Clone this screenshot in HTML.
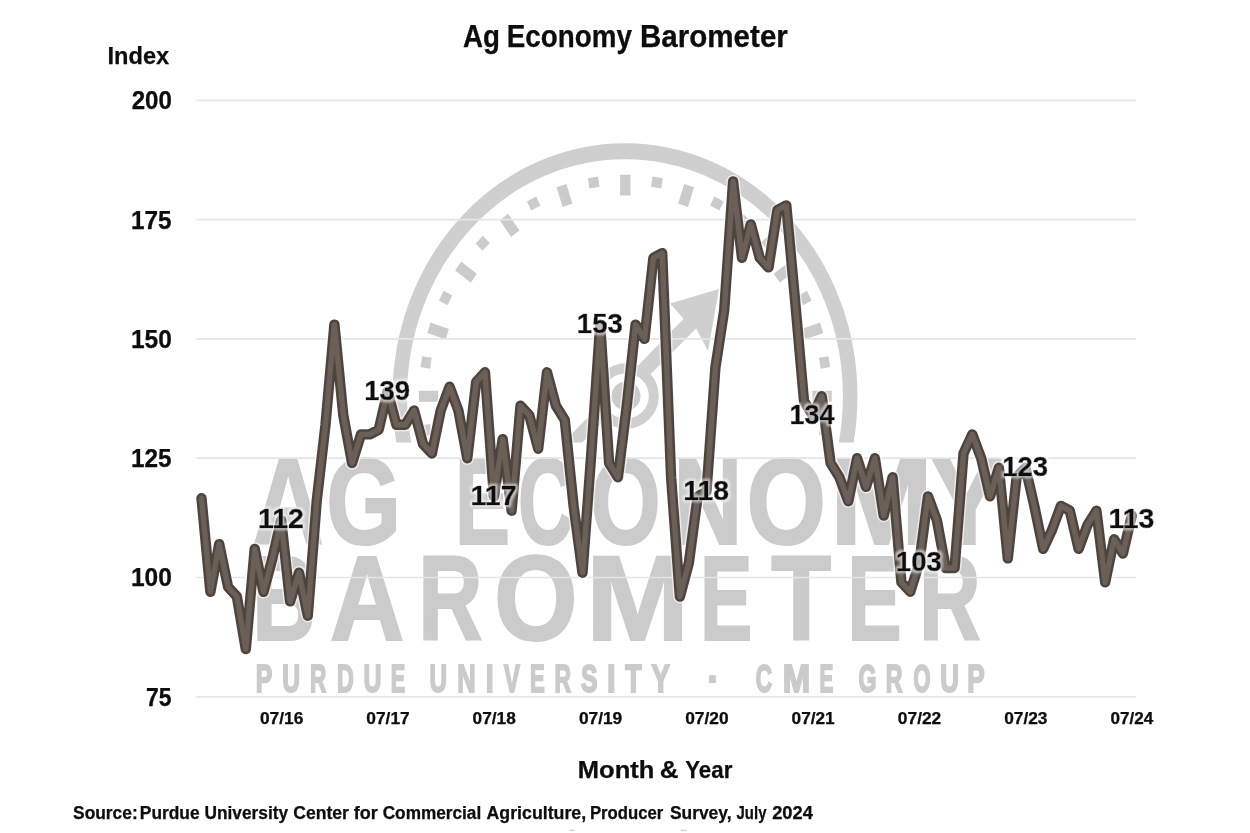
<!DOCTYPE html>
<html lang="en"><head><meta charset="utf-8"><title>Ag Economy Barometer</title>
<style>
html,body{margin:0;padding:0;background:#fff;}
body{width:1250px;height:833px;overflow:hidden;font-family:'Liberation Sans', sans-serif;}
svg{display:block;}
text{font-family:'Liberation Sans', sans-serif;font-weight:bold;}
.wm{fill:#cbcbcb;}
.ax{fill:#0a0a0a;stroke:#0a0a0a;stroke-width:0.25px;stroke-linejoin:round;}
.lab{filter:url(#halo);stroke-width:0.5px;}
</style></head><body>
<svg width="1250" height="833" viewBox="0 0 1250 833">
<defs><filter id="soft" x="-2%" y="-2%" width="104%" height="104%"><feGaussianBlur stdDeviation="0.75"/></filter>
<filter id="halo" x="-15%" y="-25%" width="130%" height="150%"><feMorphology in="SourceAlpha" operator="dilate" radius="1.5" result="d"/><feGaussianBlur in="d" stdDeviation="0.9" result="b"/><feFlood flood-color="#ffffff" flood-opacity="0.6"/><feComposite in2="b" operator="in" result="h"/><feGaussianBlur in="SourceGraphic" stdDeviation="0.6" result="sg"/><feMerge><feMergeNode in="h"/><feMergeNode in="sg"/></feMerge></filter></defs>
<rect width="1250" height="833" fill="#ffffff"/>
<g filter="url(#soft)">

<g id="watermark">
<clipPath id="arcclip"><rect x="380" y="120" width="490" height="322.5"/></clipPath>
<g clip-path="url(#arcclip)">
<g transform="translate(625,396.3) scale(1,1.088)"><circle r="225.2" fill="none" stroke="#cfcfcf" stroke-width="14.6"/></g>
<g transform="translate(625.3,396.3) scale(1,1.073)" fill="#cbcbcb">
<rect x="-5.15" y="-4.80" width="10.3" height="9.6" transform="translate(-199.2,31.6) rotate(-99)"/>
<rect x="-5.15" y="-9.65" width="10.3" height="19.3" transform="translate(-196.8,-0.0) rotate(-90)"/>
<rect x="-5.15" y="-4.80" width="10.3" height="9.6" transform="translate(-199.2,-31.6) rotate(-81)"/>
<rect x="-5.15" y="-9.65" width="10.3" height="19.3" transform="translate(-187.2,-60.8) rotate(-72)"/>
<rect x="-5.15" y="-4.80" width="10.3" height="9.6" transform="translate(-179.7,-91.6) rotate(-63)"/>
<rect x="-5.15" y="-9.65" width="10.3" height="19.3" transform="translate(-159.3,-115.7) rotate(-54)"/>
<rect x="-5.15" y="-4.80" width="10.3" height="9.6" transform="translate(-142.6,-142.6) rotate(-45)"/>
<rect x="-5.15" y="-9.65" width="10.3" height="19.3" transform="translate(-115.7,-159.3) rotate(-36)"/>
<rect x="-5.15" y="-4.80" width="10.3" height="9.6" transform="translate(-91.6,-179.7) rotate(-27)"/>
<rect x="-5.15" y="-9.65" width="10.3" height="19.3" transform="translate(-60.8,-187.2) rotate(-18)"/>
<rect x="-5.15" y="-4.80" width="10.3" height="9.6" transform="translate(-31.6,-199.2) rotate(-9)"/>
<rect x="-5.15" y="-9.65" width="10.3" height="19.3" transform="translate(0.0,-196.8) rotate(0)"/>
<rect x="-5.15" y="-4.80" width="10.3" height="9.6" transform="translate(31.6,-199.2) rotate(9)"/>
<rect x="-5.15" y="-9.65" width="10.3" height="19.3" transform="translate(60.8,-187.2) rotate(18)"/>
<rect x="-5.15" y="-4.80" width="10.3" height="9.6" transform="translate(91.6,-179.7) rotate(27)"/>
<rect x="-5.15" y="-9.65" width="10.3" height="19.3" transform="translate(115.7,-159.3) rotate(36)"/>
<rect x="-5.15" y="-4.80" width="10.3" height="9.6" transform="translate(142.6,-142.6) rotate(45)"/>
<rect x="-5.15" y="-9.65" width="10.3" height="19.3" transform="translate(159.3,-115.7) rotate(54)"/>
<rect x="-5.15" y="-4.80" width="10.3" height="9.6" transform="translate(179.7,-91.6) rotate(63)"/>
<rect x="-5.15" y="-9.65" width="10.3" height="19.3" transform="translate(187.2,-60.8) rotate(72)"/>
<rect x="-5.15" y="-4.80" width="10.3" height="9.6" transform="translate(199.2,-31.6) rotate(81)"/>
<rect x="-5.15" y="-9.65" width="10.3" height="19.3" transform="translate(196.8,-0.0) rotate(90)"/>
<rect x="-5.15" y="-4.80" width="10.3" height="9.6" transform="translate(199.2,31.6) rotate(99)"/>
</g>
</g>
<path fill="#cfcfcf" d="M563.4,442.5 L683.6,318.7 L670.1,303.4 L719,289 L708,351.1 L696.2,328.6 L582.3,442.5 Z"/>
<circle cx="626" cy="396" r="27.8" fill="#fff" stroke="#cfcfcf" stroke-width="10"/>
<circle cx="626" cy="396" r="14.5" fill="#cbcbcb"/>
<text class="wm" y="544.3" font-size="121.8" xml:space="preserve" stroke="#cbcbcb" stroke-width="2.2" stroke-linejoin="miter"><tspan x="252.7" textLength="70.8" lengthAdjust="spacingAndGlyphs">A</tspan><tspan x="326.3" textLength="74.9" lengthAdjust="spacingAndGlyphs">G</tspan> <tspan x="455.1" textLength="55.0" lengthAdjust="spacingAndGlyphs">E</tspan><tspan x="517.9" textLength="55.9" lengthAdjust="spacingAndGlyphs">C</tspan><tspan x="590.6" textLength="70.1" lengthAdjust="spacingAndGlyphs">O</tspan><tspan x="673.5" textLength="68.8" lengthAdjust="spacingAndGlyphs">N</tspan><tspan x="746.5" textLength="79.5" lengthAdjust="spacingAndGlyphs">O</tspan><tspan x="830.0" textLength="103.2" lengthAdjust="spacingAndGlyphs">M</tspan><tspan x="931.3" textLength="71.4" lengthAdjust="spacingAndGlyphs">Y</tspan></text>
<text class="wm" y="639.5" font-size="119.8" xml:space="preserve" stroke="#cbcbcb" stroke-width="2.2" stroke-linejoin="miter"><tspan x="252.2" textLength="63.5" lengthAdjust="spacingAndGlyphs">B</tspan><tspan x="330.0" textLength="74.2" lengthAdjust="spacingAndGlyphs">A</tspan><tspan x="418.2" textLength="64.2" lengthAdjust="spacingAndGlyphs">R</tspan><tspan x="493.9" textLength="83.5" lengthAdjust="spacingAndGlyphs">O</tspan><tspan x="586.0" textLength="103.2" lengthAdjust="spacingAndGlyphs">M</tspan><tspan x="700.1" textLength="52.4" lengthAdjust="spacingAndGlyphs">E</tspan><tspan x="771.2" textLength="60.0" lengthAdjust="spacingAndGlyphs">T</tspan><tspan x="847.2" textLength="54.4" lengthAdjust="spacingAndGlyphs">E</tspan><tspan x="919.0" textLength="61.7" lengthAdjust="spacingAndGlyphs">R</tspan></text>
<text class="wm" y="692.2" font-size="38.4" xml:space="preserve" stroke="#cbcbcb" stroke-width="2.0" stroke-linejoin="miter"><tspan x="255.7" textLength="16.5" lengthAdjust="spacingAndGlyphs">P</tspan><tspan x="282.3" textLength="17.8" lengthAdjust="spacingAndGlyphs">U</tspan><tspan x="310.0" textLength="16.3" lengthAdjust="spacingAndGlyphs">R</tspan><tspan x="337.1" textLength="16.8" lengthAdjust="spacingAndGlyphs">D</tspan><tspan x="363.4" textLength="18.0" lengthAdjust="spacingAndGlyphs">U</tspan><tspan x="390.7" textLength="14.4" lengthAdjust="spacingAndGlyphs">E</tspan> <tspan x="429.5" textLength="17.5" lengthAdjust="spacingAndGlyphs">U</tspan><tspan x="457.2" textLength="18.4" lengthAdjust="spacingAndGlyphs">N</tspan><tspan x="485.8" textLength="7.9" lengthAdjust="spacingAndGlyphs">I</tspan><tspan x="504.0" textLength="15.9" lengthAdjust="spacingAndGlyphs">V</tspan><tspan x="529.9" textLength="14.7" lengthAdjust="spacingAndGlyphs">E</tspan><tspan x="554.4" textLength="16.6" lengthAdjust="spacingAndGlyphs">R</tspan><tspan x="581.1" textLength="16.5" lengthAdjust="spacingAndGlyphs">S</tspan><tspan x="607.0" textLength="8.5" lengthAdjust="spacingAndGlyphs">I</tspan><tspan x="625.3" textLength="16.4" lengthAdjust="spacingAndGlyphs">T</tspan><tspan x="651.5" textLength="17.9" lengthAdjust="spacingAndGlyphs">Y</tspan> <tspan x="707.6" textLength="11.8" lengthAdjust="spacingAndGlyphs">·</tspan> <tspan x="755.7" textLength="16.3" lengthAdjust="spacingAndGlyphs">C</tspan><tspan x="782.8" textLength="27.4" lengthAdjust="spacingAndGlyphs">M</tspan><tspan x="819.6" textLength="13.8" lengthAdjust="spacingAndGlyphs">E</tspan> <tspan x="858.5" textLength="18.0" lengthAdjust="spacingAndGlyphs">G</tspan><tspan x="885.8" textLength="16.8" lengthAdjust="spacingAndGlyphs">R</tspan><tspan x="913.4" textLength="16.9" lengthAdjust="spacingAndGlyphs">O</tspan><tspan x="940.2" textLength="18.7" lengthAdjust="spacingAndGlyphs">U</tspan><tspan x="967.3" textLength="17.4" lengthAdjust="spacingAndGlyphs">P</tspan></text>
</g>
<g id="grid" stroke="#e5e5e5" stroke-width="1.7">
<line x1="196.4" x2="1136" y1="100.4" y2="100.4"/>
<line x1="196.4" x2="1136" y1="219.7" y2="219.7"/>
<line x1="196.4" x2="1136" y1="338.9" y2="338.9"/>
<line x1="196.4" x2="1136" y1="458.2" y2="458.2"/>
<line x1="196.4" x2="1136" y1="577.5" y2="577.5"/>
<line x1="196.4" x2="1136" y1="696.8" y2="696.8"/>
</g>
<polyline points="201.5,498.3 210.4,591.8 219.2,544.1 228.1,587.0 236.9,596.6 245.8,649.1 254.7,548.9 263.5,591.8 272.4,558.4 281.2,520.2 290.1,601.4 299.0,572.7 307.8,615.7 316.7,501.2 325.5,424.8 334.4,324.6 343.3,415.3 352.1,463.0 361.0,434.4 369.8,434.4 378.7,429.6 387.6,391.4 396.4,424.8 405.3,424.8 414.1,410.5 423.0,443.9 431.9,453.5 440.7,410.5 449.6,386.7 458.4,410.5 467.3,458.2 476.2,381.9 485.0,372.3 493.9,496.4 502.7,439.1 511.6,510.7 520.5,405.7 529.3,415.3 538.2,448.7 547.0,372.3 555.9,405.7 564.8,420.1 573.6,505.9 582.5,572.7 591.3,453.5 600.2,324.6 609.1,463.0 617.9,477.3 626.8,405.7 635.6,324.6 644.5,338.9 653.4,257.8 662.2,253.1 671.1,477.3 679.9,596.6 688.8,563.2 697.7,496.4 706.5,491.6 715.4,367.6 724.2,310.3 733.1,181.5 742.0,257.8 750.8,224.4 759.7,257.8 768.5,267.4 777.4,210.1 786.3,205.4 795.1,300.8 804.0,401.0 812.8,415.3 821.7,396.2 830.6,463.0 839.4,477.3 848.3,501.2 857.1,458.2 866.0,486.9 874.9,458.2 883.7,515.5 892.6,477.3 901.4,582.3 910.3,591.8 919.2,563.2 928.0,496.4 936.9,520.2 945.7,568.0 954.6,568.0 963.5,453.5 972.3,434.4 981.2,458.2 990.0,496.4 998.9,467.8 1007.8,558.4 1016.6,477.3 1025.5,467.8 1034.3,505.9 1043.2,548.9 1052.1,529.8 1060.9,505.9 1069.8,510.7 1078.6,548.9 1087.5,525.0 1096.4,510.7 1105.2,582.3 1114.1,539.3 1122.9,553.6 1131.8,515.5" fill="none" stroke="#ffffff" stroke-opacity="0.6" stroke-width="13.4" stroke-linejoin="round" stroke-linecap="round"/>
<polyline points="201.5,498.3 210.4,591.8 219.2,544.1 228.1,587.0 236.9,596.6 245.8,649.1 254.7,548.9 263.5,591.8 272.4,558.4 281.2,520.2 290.1,601.4 299.0,572.7 307.8,615.7 316.7,501.2 325.5,424.8 334.4,324.6 343.3,415.3 352.1,463.0 361.0,434.4 369.8,434.4 378.7,429.6 387.6,391.4 396.4,424.8 405.3,424.8 414.1,410.5 423.0,443.9 431.9,453.5 440.7,410.5 449.6,386.7 458.4,410.5 467.3,458.2 476.2,381.9 485.0,372.3 493.9,496.4 502.7,439.1 511.6,510.7 520.5,405.7 529.3,415.3 538.2,448.7 547.0,372.3 555.9,405.7 564.8,420.1 573.6,505.9 582.5,572.7 591.3,453.5 600.2,324.6 609.1,463.0 617.9,477.3 626.8,405.7 635.6,324.6 644.5,338.9 653.4,257.8 662.2,253.1 671.1,477.3 679.9,596.6 688.8,563.2 697.7,496.4 706.5,491.6 715.4,367.6 724.2,310.3 733.1,181.5 742.0,257.8 750.8,224.4 759.7,257.8 768.5,267.4 777.4,210.1 786.3,205.4 795.1,300.8 804.0,401.0 812.8,415.3 821.7,396.2 830.6,463.0 839.4,477.3 848.3,501.2 857.1,458.2 866.0,486.9 874.9,458.2 883.7,515.5 892.6,477.3 901.4,582.3 910.3,591.8 919.2,563.2 928.0,496.4 936.9,520.2 945.7,568.0 954.6,568.0 963.5,453.5 972.3,434.4 981.2,458.2 990.0,496.4 998.9,467.8 1007.8,558.4 1016.6,477.3 1025.5,467.8 1034.3,505.9 1043.2,548.9 1052.1,529.8 1060.9,505.9 1069.8,510.7 1078.6,548.9 1087.5,525.0 1096.4,510.7 1105.2,582.3 1114.1,539.3 1122.9,553.6 1131.8,515.5" fill="none" stroke="#4e453e" stroke-width="10.4" stroke-linejoin="round" stroke-linecap="round"/>
<polyline points="201.5,498.3 210.4,591.8 219.2,544.1 228.1,587.0 236.9,596.6 245.8,649.1 254.7,548.9 263.5,591.8 272.4,558.4 281.2,520.2 290.1,601.4 299.0,572.7 307.8,615.7 316.7,501.2 325.5,424.8 334.4,324.6 343.3,415.3 352.1,463.0 361.0,434.4 369.8,434.4 378.7,429.6 387.6,391.4 396.4,424.8 405.3,424.8 414.1,410.5 423.0,443.9 431.9,453.5 440.7,410.5 449.6,386.7 458.4,410.5 467.3,458.2 476.2,381.9 485.0,372.3 493.9,496.4 502.7,439.1 511.6,510.7 520.5,405.7 529.3,415.3 538.2,448.7 547.0,372.3 555.9,405.7 564.8,420.1 573.6,505.9 582.5,572.7 591.3,453.5 600.2,324.6 609.1,463.0 617.9,477.3 626.8,405.7 635.6,324.6 644.5,338.9 653.4,257.8 662.2,253.1 671.1,477.3 679.9,596.6 688.8,563.2 697.7,496.4 706.5,491.6 715.4,367.6 724.2,310.3 733.1,181.5 742.0,257.8 750.8,224.4 759.7,257.8 768.5,267.4 777.4,210.1 786.3,205.4 795.1,300.8 804.0,401.0 812.8,415.3 821.7,396.2 830.6,463.0 839.4,477.3 848.3,501.2 857.1,458.2 866.0,486.9 874.9,458.2 883.7,515.5 892.6,477.3 901.4,582.3 910.3,591.8 919.2,563.2 928.0,496.4 936.9,520.2 945.7,568.0 954.6,568.0 963.5,453.5 972.3,434.4 981.2,458.2 990.0,496.4 998.9,467.8 1007.8,558.4 1016.6,477.3 1025.5,467.8 1034.3,505.9 1043.2,548.9 1052.1,529.8 1060.9,505.9 1069.8,510.7 1078.6,548.9 1087.5,525.0 1096.4,510.7 1105.2,582.3 1114.1,539.3 1122.9,553.6 1131.8,515.5" fill="none" stroke="#6a6058" stroke-width="5.4" stroke-linejoin="round" stroke-linecap="round"/>
<text class="ax" y="47" font-size="30.5" xml:space="preserve"><tspan x="463.11" textLength="36.94" lengthAdjust="spacingAndGlyphs">Ag</tspan> <tspan x="506.74" textLength="125.11" lengthAdjust="spacingAndGlyphs">Economy</tspan> <tspan x="640.02" textLength="147.82" lengthAdjust="spacingAndGlyphs">Barometer</tspan></text>
<text class="ax" x="107.52" y="64.3" font-size="24.4" textLength="61.65" lengthAdjust="spacingAndGlyphs">Index</text>
<text class="ax" x="131.66" y="109.3" font-size="25.1" textLength="40.22" lengthAdjust="spacingAndGlyphs">200</text>
<text class="ax" x="130.97" y="228.6" font-size="25.1" textLength="40.61" lengthAdjust="spacingAndGlyphs">175</text>
<text class="ax" x="130.95" y="347.8" font-size="25.1" textLength="40.95" lengthAdjust="spacingAndGlyphs">150</text>
<text class="ax" x="130.97" y="467.1" font-size="25.1" textLength="40.61" lengthAdjust="spacingAndGlyphs">125</text>
<text class="ax" x="130.95" y="586.4" font-size="25.1" textLength="40.95" lengthAdjust="spacingAndGlyphs">100</text>
<text class="ax" x="146.01" y="705.7" font-size="25.1" textLength="25.52" lengthAdjust="spacingAndGlyphs">75</text>
<text class="ax" x="259.96" y="724.4" font-size="16.1" textLength="43.31" lengthAdjust="spacingAndGlyphs">07/16</text>
<text class="ax" x="366.27" y="724.4" font-size="16.1" textLength="43.45" lengthAdjust="spacingAndGlyphs">07/17</text>
<text class="ax" x="472.60" y="724.4" font-size="16.1" textLength="43.21" lengthAdjust="spacingAndGlyphs">07/18</text>
<text class="ax" x="578.92" y="724.4" font-size="16.1" textLength="43.33" lengthAdjust="spacingAndGlyphs">07/19</text>
<text class="ax" x="685.23" y="724.4" font-size="16.1" textLength="43.40" lengthAdjust="spacingAndGlyphs">07/20</text>
<text class="ax" x="791.56" y="724.4" font-size="16.1" textLength="43.16" lengthAdjust="spacingAndGlyphs">07/21</text>
<text class="ax" x="897.87" y="724.4" font-size="16.1" textLength="43.38" lengthAdjust="spacingAndGlyphs">07/22</text>
<text class="ax" x="1004.20" y="724.4" font-size="16.1" textLength="43.31" lengthAdjust="spacingAndGlyphs">07/23</text>
<text class="ax" x="1110.52" y="724.4" font-size="16.1" textLength="42.77" lengthAdjust="spacingAndGlyphs">07/24</text>
<text class="ax" y="777.8" font-size="24.4" xml:space="preserve"><tspan x="577.79" textLength="76.59" lengthAdjust="spacingAndGlyphs">Month</tspan> <tspan x="659.66" textLength="18.75" lengthAdjust="spacingAndGlyphs">&amp;</tspan> <tspan x="685.23" textLength="47.10" lengthAdjust="spacingAndGlyphs">Year</tspan></text>
<text class="ax" y="819" font-size="18.2" xml:space="preserve"><tspan x="73.10" textLength="64.57" lengthAdjust="spacingAndGlyphs">Source:</tspan> <tspan x="139.84" textLength="59.75" lengthAdjust="spacingAndGlyphs">Purdue</tspan> <tspan x="204.56" textLength="83.53" lengthAdjust="spacingAndGlyphs">University</tspan> <tspan x="293.28" textLength="55.59" lengthAdjust="spacingAndGlyphs">Center</tspan> <tspan x="353.69" textLength="23.98" lengthAdjust="spacingAndGlyphs">for</tspan> <tspan x="382.69" textLength="98.52" lengthAdjust="spacingAndGlyphs">Commercial</tspan> <tspan x="486.56" textLength="99.63" lengthAdjust="spacingAndGlyphs">Agriculture,</tspan> <tspan x="589.88" textLength="73.37" lengthAdjust="spacingAndGlyphs">Producer</tspan> <tspan x="669.91" textLength="61.63" lengthAdjust="spacingAndGlyphs">Survey,</tspan> <tspan x="736.57" textLength="29.91" lengthAdjust="spacingAndGlyphs">July</tspan> <tspan x="772.17" textLength="40.73" lengthAdjust="spacingAndGlyphs">2024</tspan></text>
<rect x="569.5" y="829.6" width="5" height="1.6" fill="#d6d6d6"/><rect x="680.5" y="829.6" width="6" height="1.6" fill="#d6d6d6"/>
</g>
<g id="labels">
<text class="ax lab" x="257.90" y="528.4" font-size="27.6" textLength="46.04" lengthAdjust="spacingAndGlyphs">112</text>
<text class="ax lab" x="364.23" y="399.6" font-size="27.6" textLength="45.96" lengthAdjust="spacingAndGlyphs">139</text>
<text class="ax lab" x="470.54" y="504.6" font-size="27.6" textLength="46.16" lengthAdjust="spacingAndGlyphs">117</text>
<text class="ax lab" x="576.87" y="332.8" font-size="27.6" textLength="45.93" lengthAdjust="spacingAndGlyphs">153</text>
<text class="ax lab" x="683.19" y="499.8" font-size="27.6" textLength="45.77" lengthAdjust="spacingAndGlyphs">118</text>
<text class="ax lab" x="789.54" y="423.5" font-size="27.6" textLength="45.05" lengthAdjust="spacingAndGlyphs">134</text>
<text class="ax lab" x="895.83" y="571.4" font-size="27.6" textLength="45.93" lengthAdjust="spacingAndGlyphs">103</text>
<text class="ax lab" x="1002.15" y="476.0" font-size="27.6" textLength="45.93" lengthAdjust="spacingAndGlyphs">123</text>
<text class="ax lab" x="1108.47" y="527.9" font-size="27.6" textLength="45.93" lengthAdjust="spacingAndGlyphs">113</text>
</g>
</svg></body></html>
